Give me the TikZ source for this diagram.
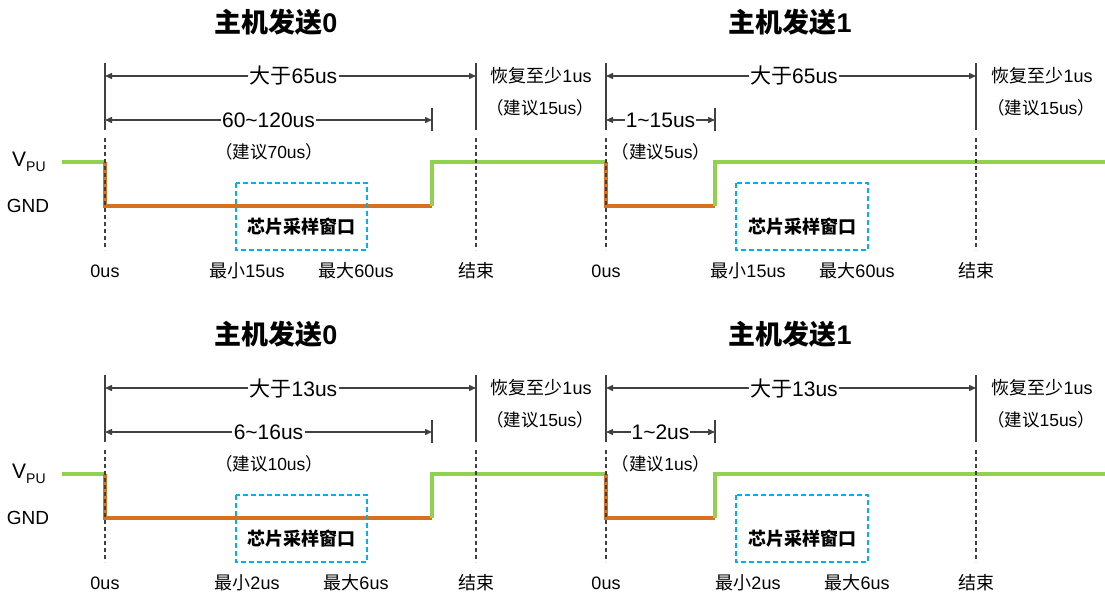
\documentclass[tikz,border=0pt]{standalone}
\usepackage{fontspec}
\setmainfont{Liberation Sans}
\newfontfamily\cjk{Noto Sans CJK SC}
\usetikzlibrary{arrows.meta}
\definecolor{vgreen}{HTML}{92D050}
\definecolor{vorange}{HTML}{D8701E}
\definecolor{dimgray}{HTML}{404040}
\definecolor{wincyan}{HTML}{00B0F0}
\newcommand\zh[1]{{\cjk #1}}
\tikzset{
  hi/.style={draw=vgreen, line width=3.2pt},
  lo/.style={draw=vorange, line width=3.2pt},
  guide/.style={draw=dimgray, line width=1.4pt},
  guidedash/.style={draw=dimgray, line width=1.4pt, dash pattern=on 4pt off 3pt},
  dimarrow/.style={draw=dimgray, line width=1.4pt, {Triangle[length=7pt,width=6pt]}-{Triangle[length=7pt,width=6pt]}},
  dimlabel/.style={fill=white, inner sep=1.5pt, font=\fontsize{21}{21}\selectfont},
  titletext/.style={inner sep=0pt, font=\fontsize{27}{27}\selectfont\bfseries},
  rectext/.style={inner sep=0pt, font=\fontsize{17.5}{17.5}\selectfont},
  plaintext/.style={inner sep=0pt, font=\fontsize{18}{18}\selectfont},
  wintext/.style={inner sep=0pt, font=\fontsize{18}{18}\selectfont\bfseries},
  winbox/.style={draw=wincyan, line width=2pt, dash pattern=on 5pt off 3pt},
}
\newcommand\timingrow[8]{%
  \node[titletext] (#1T0) at (276,22) {\zh{主机发送}0};
  \node[titletext] (#1T1) at (790,22) {\zh{主机发送}1};
  \node[anchor=west, inner sep=0pt, font=\fontsize{21}{21}\selectfont] (#1vpu) at (12,162) {V\raisebox{-0.45ex}{\fontsize{14}{14}\selectfont PU}};
  \node[inner sep=0pt, font=\fontsize{19}{19}\selectfont] (#1gnd) at (28,206) {GND};
  % waveform
  \coordinate (#1w0) at (62,162);
  \coordinate (#1w1) at (105,162);
  \coordinate (#1w2) at (105,206);
  \coordinate (#1w3) at (432,206);
  \coordinate (#1w4) at (432,162);
  \coordinate (#1w5) at (606,162);
  \coordinate (#1w6) at (606,206);
  \coordinate (#1w7) at (715,206);
  \coordinate (#1w8) at (715,162);
  \coordinate (#1w9) at (1105,162);
  \draw[hi] (#1w0) -- (#1w1);
  \draw[lo] (#1w1) -- (#1w2) -- (#1w3);
  \draw[hi] (#1w3) -- (#1w4) -- (#1w5);
  \draw[lo] (#1w5) -- (#1w6) -- (#1w7);
  \draw[hi] (#1w7) -- (#1w8) -- (#1w9);
  % guides
  \foreach \k/\x in {0/105,1/476,2/606,3/976}{
    \coordinate (#1g\k t) at (\x,63);
    \coordinate (#1g\k m) at (\x,130);
    \coordinate (#1g\k d) at (\x,138);
    \coordinate (#1g\k b) at (\x,250);
    \coordinate (#1g\k a) at (\x,76);
    \coordinate (#1g\k c) at (\x,120);
    \draw[guide] (#1g\k t) -- (#1g\k m);
    \draw[guidedash] (#1g\k d) -- (#1g\k b);
  }
  \foreach \k/\x in {0/432,1/715}{
    \coordinate (#1k\k t) at (\x,108);
    \coordinate (#1k\k b) at (\x,131);
    \coordinate (#1k\k c) at (\x,120);
    \draw[guide] (#1k\k t) -- (#1k\k b);
  }
  % dimension arrows
  \draw[dimarrow] (#1g0a) -- node[dimlabel, pos=0.508] (#1A0) {\zh{大于}#2us} (#1g1a);
  \draw[dimarrow] (#1g0c) -- node[dimlabel] (#1A1) {#3us} (#1k0c);
  \draw[dimarrow] (#1g2a) -- node[dimlabel, pos=0.508] (#1A2) {\zh{大于}#2us} (#1g3a);
  \draw[dimarrow] (#1g2c) -- node[dimlabel, inner xsep=1pt] (#1A3) {#7us} (#1k1c);
  % notes
  \node[rectext] (#1R0) at (269,152) {\zh{（建议}#4us\zh{）}};
  \node[rectext] (#1R1) at (661,152) {\zh{（建议}#8us\zh{）}};
  \node[plaintext] (#1H0) at (541,76) {\zh{恢复至少}1us};
  \node[rectext] (#1H1) at (540,108) {\zh{（建议}15us\zh{）}};
  \node[plaintext] (#1H2) at (1042,76) {\zh{恢复至少}1us};
  \node[rectext] (#1H3) at (1041,108) {\zh{（建议}15us\zh{）}};
  % sampling windows
  \draw[winbox] (236,183) rectangle (367,250);
  \node[wintext] (#1W0) at (301.5,227) {\zh{芯片采样窗口}};
  \draw[winbox] (736,183) rectangle (868,250);
  \node[wintext] (#1W1) at (802,227) {\zh{芯片采样窗口}};
  % time labels
  \node[plaintext] (#1L0) at (105,271) {0us};
  \node[plaintext] (#1L1) at (247,271) {\zh{最小}#5us};
  \node[plaintext] (#1L2) at (356,271) {\zh{最大}#6us};
  \node[plaintext] (#1L3) at (476,271) {\zh{结束}};
  \node[plaintext] (#1L4) at (606,271) {0us};
  \node[plaintext] (#1L5) at (748,271) {\zh{最小}#5us};
  \node[plaintext] (#1L6) at (857,271) {\zh{最大}#6us};
  \node[plaintext] (#1L7) at (976,271) {\zh{结束}};
}
\begin{document}
\begin{tikzpicture}[x=1pt, y=-1pt]
  \useasboundingbox[fill=white] (0,0) rectangle (1105,598);
  \timingrow{t}{65}{60\textasciitilde 120}{70}{15}{60}{1\textasciitilde 15}{5}
  \begin{scope}[yshift=-312pt]
    \timingrow{b}{13}{6\textasciitilde 16}{10}{2}{6}{1\textasciitilde 2}{1}
  \end{scope}
\end{tikzpicture}
\end{document}
